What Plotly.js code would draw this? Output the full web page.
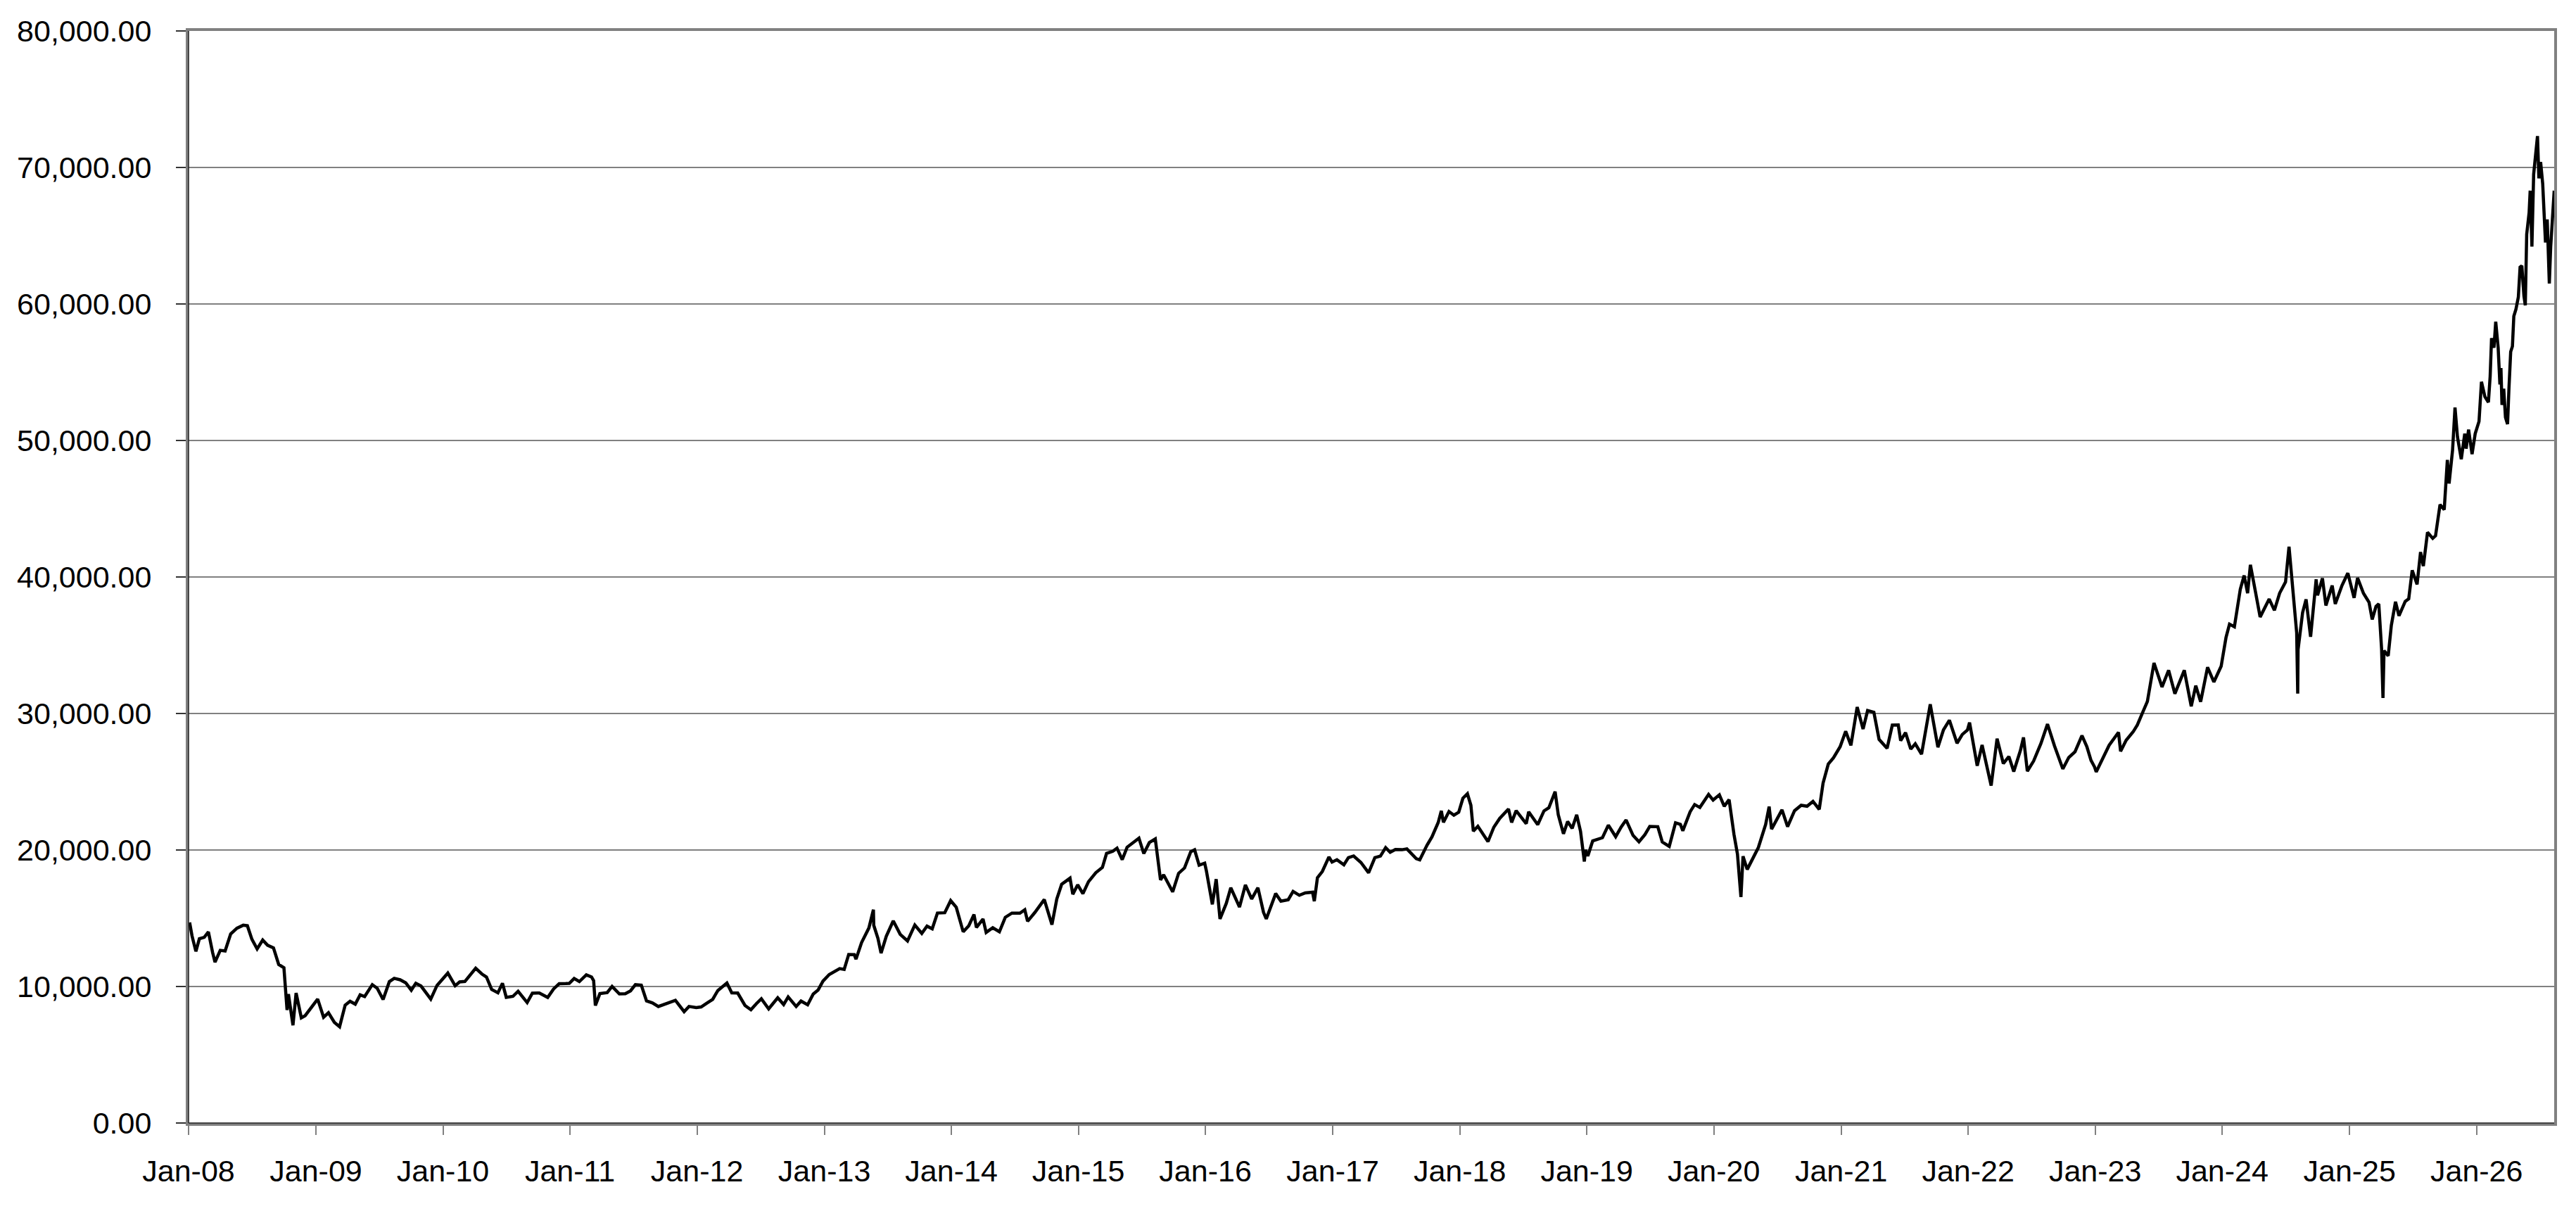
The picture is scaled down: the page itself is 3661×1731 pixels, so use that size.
<!DOCTYPE html>
<html>
<head>
<meta charset="utf-8">
<script src="https://cdn.plot.ly/plotly-3.0.1.min.js"></script>
<style>
html,body{margin:0;padding:0;background:#fff;}
#chart{width:3661px;height:1731px;}
</style>
</head>
<body>
<div id="chart"></div>
<script>
// ---- data (index level) ----
const dates = [
"2008-01-04","2008-01-11","2008-01-22","2008-02-01","2008-02-15","2008-02-27","2008-03-10","2008-03-17","2008-04-01","2008-04-15","2008-05-01","2008-05-19","2008-06-06","2008-06-18","2008-07-01","2008-07-16","2008-08-01","2008-08-15","2008-09-01","2008-09-16","2008-10-01","2008-10-10","2008-10-14","2008-10-27","2008-11-05","2008-11-20","2008-12-01","2008-12-12","2008-12-30",
"2009-01-06","2009-01-23","2009-02-06","2009-02-23","2009-03-10","2009-03-26","2009-04-09","2009-04-24","2009-05-08","2009-05-21","2009-06-12","2009-06-26","2009-07-13","2009-07-31","2009-08-14","2009-08-31","2009-09-16","2009-10-02","2009-10-15","2009-10-30","2009-11-27","2009-12-15","2009-12-30",
"2010-01-15","2010-02-05","2010-02-18","2010-03-05","2010-03-19","2010-04-05","2010-04-23","2010-05-06","2010-05-21","2010-06-08","2010-06-21","2010-07-02","2010-07-21","2010-08-05","2010-08-31","2010-09-15","2010-10-05","2010-10-29","2010-11-15","2010-12-01","2010-12-20","2010-12-30",
"2011-01-13","2011-01-28","2011-02-17","2011-03-04","2011-03-10","2011-03-15","2011-03-28","2011-04-18","2011-05-02","2011-05-23","2011-06-09","2011-06-24","2011-07-08","2011-07-25","2011-08-09","2011-08-26","2011-09-12","2011-09-30","2011-10-17","2011-10-31","2011-11-25","2011-12-09","2011-12-30",
"2012-01-13","2012-01-31","2012-02-15","2012-03-01","2012-03-27","2012-04-10","2012-04-27","2012-05-18","2012-06-04","2012-06-20","2012-07-04","2012-07-25","2012-08-20","2012-09-06","2012-09-19","2012-10-12","2012-10-26","2012-11-14","2012-11-30","2012-12-14","2012-12-28",
"2013-01-15","2013-01-31","2013-02-14","2013-02-27","2013-03-12","2013-03-28","2013-04-02","2013-04-18","2013-05-09","2013-05-22","2013-05-23","2013-06-04","2013-06-13","2013-06-28","2013-07-18","2013-08-07","2013-08-28","2013-09-18","2013-10-08","2013-10-23","2013-11-07","2013-11-22","2013-12-13","2013-12-30",
"2014-01-15","2014-02-04","2014-02-20","2014-03-07","2014-03-14","2014-04-02","2014-04-11","2014-04-30","2014-05-19","2014-06-05","2014-06-24","2014-07-17","2014-07-31","2014-08-08","2014-08-29","2014-09-25","2014-10-17","2014-10-31","2014-11-14","2014-12-08","2014-12-16","2014-12-30",
"2015-01-14","2015-01-30","2015-02-20","2015-03-11","2015-03-23","2015-04-10","2015-04-22","2015-05-07","2015-05-21","2015-06-24","2015-07-08","2015-07-24","2015-08-10","2015-08-25","2015-09-03","2015-09-29","2015-10-16","2015-11-02","2015-11-20","2015-12-01","2015-12-14","2015-12-30",
"2016-01-04","2016-01-21","2016-02-01","2016-02-12","2016-03-01","2016-03-14","2016-04-08","2016-04-25","2016-05-13","2016-05-31","2016-06-16","2016-06-24","2016-07-21","2016-08-05","2016-08-26","2016-09-09","2016-09-27","2016-10-14","2016-11-04","2016-11-09","2016-11-18","2016-12-02","2016-12-21","2016-12-30",
"2017-01-13","2017-02-02","2017-02-15","2017-03-02","2017-03-23","2017-04-14","2017-05-02","2017-05-18","2017-06-02","2017-06-15","2017-06-30","2017-07-19","2017-08-02","2017-08-29","2017-09-08","2017-09-29","2017-10-13","2017-10-31","2017-11-09","2017-11-15","2017-12-01","2017-12-15","2017-12-29",
"2018-01-10","2018-01-23","2018-02-02","2018-02-09","2018-02-22","2018-03-07","2018-03-23","2018-04-09","2018-04-26","2018-05-21","2018-05-30","2018-06-12","2018-06-29","2018-07-11","2018-07-18","2018-08-13","2018-08-31","2018-09-14","2018-10-02","2018-10-11","2018-10-26","2018-11-07","2018-11-20","2018-12-03","2018-12-14","2018-12-25","2018-12-28",
"2019-01-04","2019-01-18","2019-02-01","2019-02-15","2019-03-04","2019-03-25","2019-04-10","2019-04-24","2019-05-14","2019-05-31","2019-06-17","2019-07-01","2019-07-24","2019-08-06","2019-08-26","2019-09-13","2019-09-27","2019-10-04","2019-10-25","2019-11-07","2019-11-22","2019-12-17","2019-12-30",
"2020-01-17","2020-01-31","2020-02-14","2020-02-28","2020-03-09","2020-03-19","2020-03-25","2020-04-06","2020-04-21","2020-05-08","2020-05-29","2020-06-08","2020-06-15","2020-06-30","2020-07-15","2020-07-31","2020-08-20","2020-09-08","2020-09-25","2020-10-12","2020-10-30","2020-11-10","2020-11-25","2020-12-10","2020-12-29",
"2021-01-14","2021-01-29","2021-02-16","2021-03-05","2021-03-18","2021-04-05","2021-04-20","2021-05-13","2021-05-28","2021-06-14","2021-06-21","2021-07-05","2021-07-20","2021-08-02","2021-08-20","2021-09-03","2021-09-14","2021-10-06","2021-10-22","2021-11-08","2021-11-30","2021-12-15","2021-12-30",
"2022-01-05","2022-01-27","2022-02-10","2022-02-24","2022-03-08","2022-03-25","2022-04-12","2022-04-28","2022-05-12","2022-05-31","2022-06-09","2022-06-20","2022-07-08","2022-07-29","2022-08-17","2022-09-06","2022-09-30","2022-10-17","2022-11-04","2022-11-24","2022-12-08","2022-12-20","2022-12-30",
"2023-01-04","2023-01-20","2023-02-10","2023-03-09","2023-03-15","2023-03-31","2023-04-20","2023-05-02","2023-05-17","2023-05-31","2023-06-19","2023-07-07","2023-07-12","2023-07-31","2023-08-18","2023-09-14","2023-10-04","2023-10-17","2023-10-31","2023-11-20","2023-12-08","2023-12-29",
"2024-01-12","2024-01-22","2024-02-05","2024-02-22","2024-03-04","2024-03-14","2024-03-22","2024-04-05","2024-04-19","2024-05-15","2024-05-30","2024-06-14","2024-07-01","2024-07-11","2024-07-25","2024-08-02","2024-08-05","2024-08-06","2024-08-19","2024-08-29","2024-09-11","2024-09-27","2024-10-01","2024-10-15","2024-10-25","2024-11-12","2024-11-21","2024-12-10","2024-12-27",
"2025-01-06","2025-01-14","2025-01-24","2025-02-10","2025-02-26","2025-03-07","2025-03-18","2025-03-26","2025-04-03","2025-04-07","2025-04-10","2025-04-22","2025-05-01","2025-05-13","2025-05-23","2025-06-10","2025-06-20","2025-06-30","2025-07-14","2025-07-24","2025-08-01","2025-08-13","2025-08-28","2025-09-05","2025-09-18","2025-09-30","2025-10-09","2025-10-14","2025-10-24","2025-10-31","2025-11-07","2025-11-18","2025-11-28","2025-12-02","2025-12-09","2025-12-19","2025-12-28",
"2026-01-08","2026-01-15","2026-01-25","2026-02-04","2026-02-09","2026-02-13","2026-02-20","2026-02-25","2026-03-04","2026-03-09","2026-03-12","2026-03-15","2026-03-20","2026-03-25","2026-03-31","2026-04-04","2026-04-09","2026-04-14","2026-04-18","2026-04-24","2026-05-01","2026-05-06","2026-05-11","2026-05-17","2026-05-21","2026-05-25","2026-06-01","2026-06-04","2026-06-09","2026-06-14","2026-06-20","2026-06-25","2026-06-29","2026-07-04","2026-07-10","2026-07-14","2026-07-18","2026-07-23","2026-07-29","2026-08-02","2026-08-06","2026-08-12"
];
const indexValues = [
14691,13700,12573,13500,13600,14000,12500,11787,12650,12600,13850,14270,14490,14450,13460,12750,13400,13020,12830,11610,11370,8276,9447,7162,9521,7703,7863,8235,8860,
9080,7745,8076,7376,7055,8636,8916,8707,9387,9264,10135,9877,9050,10357,10597,10492,10270,9731,10238,10034,9081,10083,10546,
10982,10057,10335,10368,10824,11339,10914,10696,9784,9538,10238,9203,9278,9653,8824,9516,9518,9202,9827,10206,10216,10229,
10590,10360,10857,10694,10434,8605,9478,9556,10004,9460,9467,9678,10137,10097,8944,8797,8535,8700,8879,8988,8160,8537,8455,
8500,8803,9052,9707,10255,9538,9521,8611,8295,8752,9104,8365,9171,8680,9232,8534,8933,8664,9446,9737,10395,
10879,11139,11307,11254,12349,12336,12003,13220,14285,15627,14484,13533,12445,13677,14808,13824,13338,14505,13894,14426,14228,15381,15403,16291,
15808,14008,14450,15274,14327,14946,13960,14304,14006,15069,15376,15370,15621,14778,15425,16374,14532,16413,17490,17935,16755,17451,
16796,17674,18332,18723,19754,19908,20134,19292,20202,20868,19738,20545,20808,17807,18183,16931,18291,18683,19879,20012,18884,19034,
18451,16017,17866,14953,16085,17233,15821,17440,16413,17235,15434,14952,16811,16254,16360,16965,16684,16856,16905,16251,17968,18426,19494,19114,
19287,18914,19438,19564,19085,18335,19445,19554,20177,19831,20033,20020,20080,19362,19275,20356,20954,22011,22868,22028,22819,22553,22765,
23788,24124,23274,21383,21736,21253,20617,21678,22319,23002,22018,22878,22305,21932,22794,21858,22865,23094,24271,22591,21184,22085,21583,22574,21374,19155,20015,
19562,20667,20788,20901,21822,20977,21688,22200,21067,20601,21124,21730,21710,20585,20261,21988,21879,21410,22800,23330,23113,24066,23657,
24041,23205,23688,21143,19698,16552,19546,18576,19280,20179,21877,23178,21530,22288,22945,21710,22880,23274,23204,23558,22977,24905,26296,26756,27568,
28698,27663,30467,28864,30216,30089,28100,27448,29149,29161,28011,28598,27388,27781,27013,29128,30670,27528,28804,29507,27822,28460,28792,
29332,26170,27696,25970,24717,28150,26335,26848,25748,27280,28246,25771,26517,27801,29222,27626,25937,26775,27199,28383,27574,26568,26094,
25717,26553,27670,28623,27229,28041,28657,29157,30093,30888,33706,32388,31943,33172,31450,33168,30526,32040,30858,33388,32307,33464,
35577,36546,36354,39098,40109,38807,40888,38992,37068,38385,37557,38814,39631,42224,37869,35909,31458,34675,37389,38362,35620,39829,38651,39910,37913,39376,38026,39367,40281,
39307,38474,39931,38801,38142,36887,37845,38027,34736,31136,34609,34221,36452,38183,37160,38212,38403,40487,39460,41826,40799,43274,42829,43018,45303,44932,48580,46847,49299,52411,50276,48625,50500,49400,50800,49000,50500,
51400,54300,53200,52800,54700,57500,56800,58700,56800,54100,55300,52600,53800,51700,51200,53800,56500,56900,59100,59600,60500,62700,62800,60600,59900,65100,66700,68300,64200,69500,71300,72300,69200,70400,68800,66800,64500,66200,61500,64200,65900,68300
];
const yTicks = [0,10000,20000,30000,40000,50000,60000,70000,80000];
const yTickLabels = ["0.00","10,000.00","20,000.00","30,000.00","40,000.00","50,000.00","60,000.00","70,000.00","80,000.00"];
const xTickDates = ["2008-01-01","2009-01-01","2010-01-01","2011-01-01","2012-01-01","2013-01-01","2014-01-01","2015-01-01","2016-01-01","2017-01-01","2018-01-01","2019-01-01","2020-01-01","2021-01-01","2022-01-01","2023-01-01","2024-01-01","2025-01-01","2026-01-01"];
const xTickLabels = ["Jan-08","Jan-09","Jan-10","Jan-11","Jan-12","Jan-13","Jan-14","Jan-15","Jan-16","Jan-17","Jan-18","Jan-19","Jan-20","Jan-21","Jan-22","Jan-23","Jan-24","Jan-25","Jan-26"];

const font = {family: '"Liberation Sans", Arial, sans-serif', size: 43, color: '#000'};

const trace = {
  x: dates, y: indexValues, type: 'scatter', mode: 'lines',
  line: {color: '#000000', width: 4.5}, hoverinfo: 'skip'
};

const layout = {
  width: 3661, height: 1731,
  margin: {l: 268, r: 31, t: 44, b: 135, pad: 0},
  paper_bgcolor: '#ffffff', plot_bgcolor: '#ffffff',
  showlegend: false,
  font: font,
  xaxis: {
    type: 'date', range: ['2008-01-01', '2026-08-12'],
    tickmode: 'array', tickvals: xTickDates, ticktext: xTickLabels,
    ticks: 'outside', ticklen: 13, tickwidth: 2, tickcolor: '#808080',
    showgrid: false, zeroline: false,
    showline: true, linecolor: '#808080', linewidth: 4, mirror: true,
    tickfont: font, ticklabelstandoff: 14
  },
  yaxis: {
    range: [0, 80000],
    tickmode: 'array', tickvals: yTicks, ticktext: yTickLabels,
    ticks: 'outside', ticklen: 14, tickwidth: 2, tickcolor: '#333333',
    showgrid: true, gridcolor: '#808080', gridwidth: 2,
    zeroline: false,
    showline: true, linecolor: '#808080', linewidth: 4, mirror: true,
    tickfont: font, ticklabelstandoff: 26
  },
  shapes: [
    {type: 'line', xref: 'paper', yref: 'paper', x0: 0, x1: 0, y0: 0, y1: 1, line: {color: '#222222', width: 1.5}, layer: 'above'},
    {type: 'line', xref: 'paper', yref: 'paper', x0: 0, x1: 1, y0: 0, y1: 0, line: {color: '#222222', width: 1.5}, layer: 'above'}
  ]
};

Plotly.newPlot('chart', [trace], layout, {staticPlot: true, displayModeBar: false});
</script>
</body>
</html>
